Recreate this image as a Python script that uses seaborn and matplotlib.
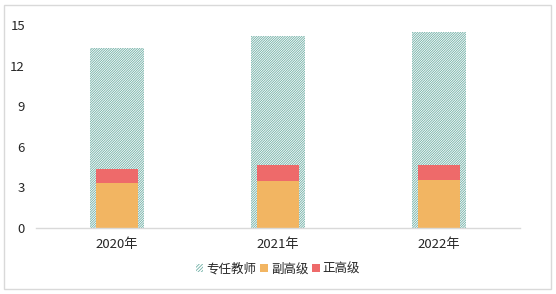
import matplotlib
matplotlib.use("Agg")
import matplotlib.pyplot as plt
import matplotlib.patches as mpatches
import seaborn as sns
import pandas as pd

years = ["2020年", "2021年", "2022年"]
total_teachers = [13.27, 14.19, 14.46]   # 专任教师
assoc_senior = [3.34, 3.49, 3.56]        # 副高级
full_senior = [1.01, 1.14, 1.11]         # 正高级
y_ticks = [0, 3, 6, 9, 12, 15]

sns.set_theme(style="white")
plt.rcParams["font.family"] = ["Noto Sans CJK SC", "DejaVu Sans"]
plt.rcParams["hatch.linewidth"] = 0.6
plt.rcParams["hatch.color"] = "#6FAFA5"

HATCH = "#6FAFA5"
HATCH_PAT = "/" * 14
ORANGE = "#F2B562"
RED = "#EE6A6A"
TXT = "#262626"

df = pd.DataFrame({
    "year": years,
    "total": total_teachers,
    "assoc": assoc_senior,
    "cum": [a + b for a, b in zip(assoc_senior, full_senior)],
})

fig = plt.figure(figsize=(5.56, 2.94), dpi=100)
ax = fig.add_axes([0.065, 0.2245, 0.87, 0.6905])

sns.barplot(data=df, x="year", y="total", ax=ax, color="white", width=0.335,
            edgecolor=HATCH, hatch=HATCH_PAT, linewidth=0, saturation=1)
sns.barplot(data=df, x="year", y="cum", ax=ax, color=RED, width=0.26,
            linewidth=0, saturation=1)
sns.barplot(data=df, x="year", y="assoc", ax=ax, color=ORANGE, width=0.26,
            linewidth=0, saturation=1)

ax.set_xlim(-0.5, 2.5)
ax.set_ylim(0, 15)
ax.set_yticks(y_ticks)
ax.set_yticklabels([str(v) for v in y_ticks])
ax.set_xlabel("")
ax.set_ylabel("")
for s in ["top", "right", "left"]:
    ax.spines[s].set_visible(False)
ax.spines["bottom"].set_color("#D9D9D9")
ax.spines["bottom"].set_linewidth(1.0)
ax.tick_params(axis="both", length=0, labelsize=9.5, colors=TXT)
ax.tick_params(axis="y", pad=8)
ax.tick_params(axis="x", pad=7)
ax.grid(False)

handles = [
    mpatches.Patch(facecolor="white", edgecolor=HATCH, hatch="/" * 10, linewidth=0, label="专任教师"),
    mpatches.Patch(facecolor=ORANGE, linewidth=0, label="副高级"),
    mpatches.Patch(facecolor=RED, linewidth=0, label="正高级"),
]
fig.legend(handles=handles, loc="center", bbox_to_anchor=(0.5, 0.084), ncol=3,
           frameon=False, fontsize=9, handlelength=0.6, handleheight=0.6,
           handletextpad=0.25, columnspacing=0.3, labelcolor=TXT)

fig.patches.append(mpatches.Rectangle((4 / 556, 5 / 294), 547 / 556, 284 / 294,
                                      transform=fig.transFigure, fill=False,
                                      edgecolor="#D9D9D9", linewidth=1.0))

fig.savefig("out.png", dpi=100)
